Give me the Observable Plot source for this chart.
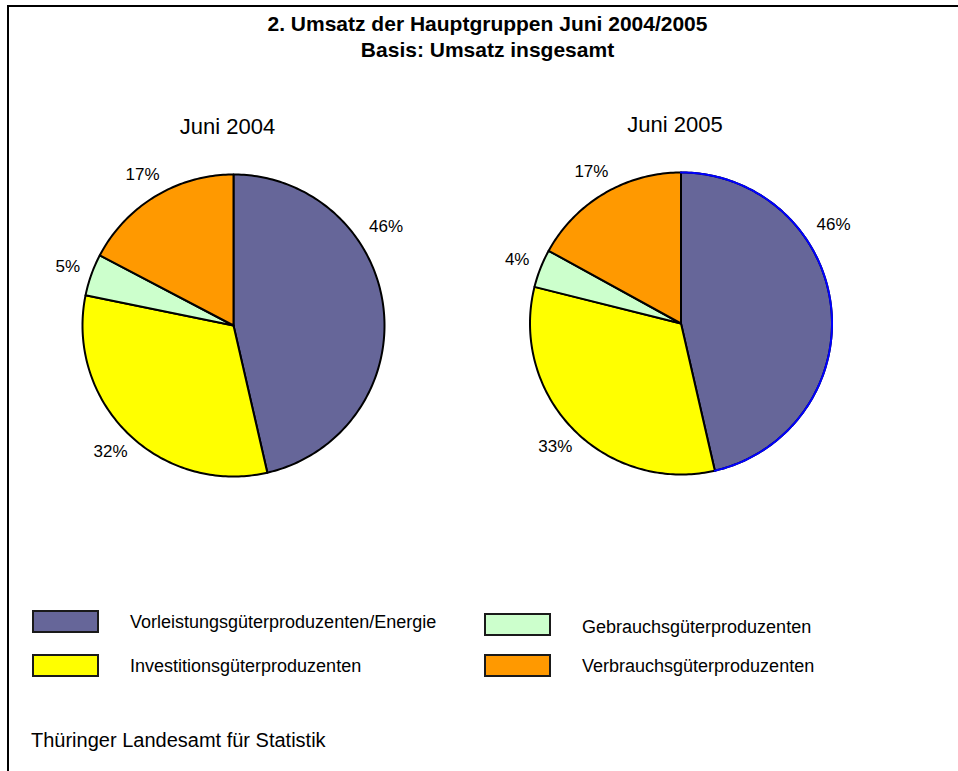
<!DOCTYPE html>
<html>
<head>
<meta charset="utf-8">
<script src="https://cdn.jsdelivr.net/npm/d3@7"></script>
<script src="https://cdn.jsdelivr.net/npm/@observablehq/plot@0.6"></script>
<style>
  html, body { margin: 0; padding: 0; background: #fff; }
  body { font-family: "Liberation Sans", Arial, sans-serif; color: #000; }
  #page { position: relative; width: 958px; height: 771px; overflow: hidden; }
  #frame { position: absolute; left: 7px; top: 5px; width: 960px; height: 780px;
           border-left: 2px solid #000; border-top: 2px solid #000; }
  #title { position: absolute; left: 0; top: 11px; width: 975px; text-align: center;
           font-weight: bold; font-size: 21px; line-height: 26px; }
  #chart { position: absolute; left: 0; top: 90px; }
  .sw { position: absolute; box-sizing: border-box; border: 2px solid #1a1a1a; }
  .lt { position: absolute; font-size: 18px; line-height: 22px; white-space: nowrap; }
  #footer { position: absolute; left: 31px; top: 728px; font-size: 20px; line-height: 24px; }
</style>
</head>
<body>
<div id="page">
  <div id="frame"></div>
  <div id="title">2. Umsatz der Hauptgruppen Juni 2004/2005<br>Basis: Umsatz insgesamt</div>
  <div id="chart"></div>
  <div id="legend"></div>
  <div id="footer">Thüringer Landesamt für Statistik</div>
</div>
<script>
// ---- data ----
const categories = [
  "Vorleistungsgüterproduzenten/Energie",
  "Investitionsgüterproduzenten",
  "Gebrauchsgüterproduzenten",
  "Verbrauchsgüterproduzenten"
];
const colors = ["#666699", "#ffff00", "#ccffcc", "#ff9900"];
const pieTitles = ["Juni 2004", "Juni 2005"];
const values2004 = [46.4, 31.8, 4.5, 17.3];
const values2005 = [46.4, 32.5, 4.1, 17.0];

// ---- layout ----
const W = 958, H = 430;
const R = 151;
const pies = [
  { title: pieTitles[0], values: values2004, cx: 233, cy: 235, blueArc: false },
  { title: pieTitles[1], values: values2005, cx: 680.5, cy: 233, blueArc: true }
];

const slicePts = [];
const arcPts = [];
const labels = [];
const titles = [];
pies.forEach((p, pi) => {
  const total = d3.sum(p.values);
  let acc = 0;
  p.values.forEach((v, i) => {
    const a0 = acc / total * 2 * Math.PI;
    acc += v;
    const a1 = acc / total * 2 * Math.PI;
    const key = pi + "-" + i;
    const n = Math.max(2, Math.ceil((a1 - a0) / (Math.PI / 180)));
    slicePts.push({ key, cat: categories[i], x: p.cx, y: p.cy });
    for (let k = 0; k <= n; k++) {
      const a = a0 + (a1 - a0) * k / n;
      const pt = { key, cat: categories[i], x: p.cx + R * Math.sin(a), y: p.cy - R * Math.cos(a) };
      slicePts.push(pt);
      if (p.blueArc && i === 0) arcPts.push(pt);
    }
    slicePts.push({ key, cat: categories[i], x: p.cx, y: p.cy });
    // label at mid angle (largest slice label is lifted, as in the original)
    let am = (a0 + a1) / 2;
    let rr = R + 25;
    if (i === 0) { am = Math.min(am, 57 * Math.PI / 180); rr = R + 31; }
    labels.push({ text: Math.round(v / total * 100) + "%", x: p.cx + rr * Math.sin(am), y: p.cy - rr * Math.cos(am) });
  });
  titles.push({ text: p.title, x: p.cx - 6, y: p.cy - R - 48 });
});

const chart = Plot.plot({
  width: W,
  height: H,
  margin: 0,
  x: { domain: [0, W], range: [0, W], axis: null },
  y: { domain: [0, H], range: [0, H], axis: null },
  color: { domain: categories, range: colors },
  style: { fontFamily: '"Liberation Sans", Arial, sans-serif', background: "transparent" },
  marks: [
    Plot.line(slicePts, { x: "x", y: "y", z: "key", fill: "cat", stroke: "#000", strokeWidth: 2, strokeLinejoin: "round" }),
    Plot.line(arcPts, { x: "x", y: "y", stroke: "#0000ff", strokeWidth: 2 }),
    Plot.text(labels, { x: "x", y: "y", text: "text", fontSize: 17, fill: "#000" }),
    Plot.text(titles, { x: "x", y: "y", text: "text", fontSize: 22, fill: "#000" })
  ]
});
document.getElementById("chart").appendChild(chart);

// ---- legend (column-major, two columns) ----
const legend = document.getElementById("legend");
const colX = [32, 484], textX = [130, 582];
const rowY = [610, 654];
categories.forEach((c, i) => {
  const col = Math.floor(i / 2), row = i % 2;
  const yOff = col === 1 && row === 0 ? 3 : 0;
  const sw = document.createElement("div");
  sw.className = "sw";
  sw.style.left = colX[col] + "px";
  sw.style.top = (rowY[row] + yOff) + "px";
  sw.style.width = "67px";
  sw.style.height = "23px";
  sw.style.background = colors[i];
  legend.appendChild(sw);
  const t = document.createElement("div");
  t.className = "lt";
  t.style.left = textX[col] + "px";
  t.style.top = (rowY[row] + yOff + 1 + (col === 1 && row === 0 ? 2 : 0)) + "px";
  t.textContent = c;
  legend.appendChild(t);
});
</script>
</body>
</html>
